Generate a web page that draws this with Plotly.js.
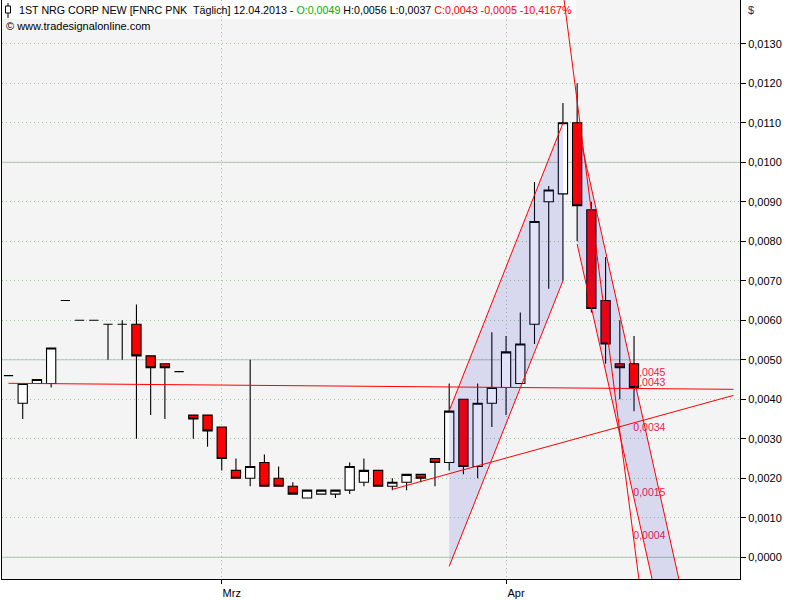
<!DOCTYPE html>
<html>
<head>
<meta charset="utf-8">
<script src="https://cdn.plot.ly/plotly-3.0.1.min.js"></script>
<style>
html,body{margin:0;padding:0;background:#ffffff;}
#chart{width:800px;height:600px;}
</style>
</head>
<body>
<div id="chart"></div>
<script>
// ---- trading days (daily bars) ----
const dates = [
  '2013-02-07','2013-02-08','2013-02-11','2013-02-12','2013-02-13','2013-02-14','2013-02-15',
  '2013-02-19','2013-02-20','2013-02-21','2013-02-22','2013-02-25','2013-02-26','2013-02-27','2013-02-28',
  '2013-03-01','2013-03-04','2013-03-05','2013-03-06','2013-03-07','2013-03-08',
  '2013-03-11','2013-03-12','2013-03-13','2013-03-14','2013-03-15',
  '2013-03-18','2013-03-19','2013-03-20','2013-03-21','2013-03-22',
  '2013-03-25','2013-03-26','2013-03-27','2013-03-28',
  '2013-04-01','2013-04-02','2013-04-03','2013-04-04','2013-04-05',
  '2013-04-08','2013-04-09','2013-04-10','2013-04-11','2013-04-12'
];
const openP  = [0.0046,0.0039,0.0044,0.0044,0.0065,0.0060,0.0060,0.0059,0.0059,0.0059,0.0051,0.0049,0.0047,0.0036,0.0036,
                0.0033,0.0022,0.0020,0.0024,0.0020,0.0018,0.0015,0.0016,0.0016,0.0017,0.0019,0.0022,0.0018,0.0019,0.0021,
                0.0025,0.0024,0.0040,0.0023,0.0039,0.0043,0.0044,0.0059,0.0090,0.0092,0.0110,0.0088,0.0065,0.0049,0.0049];
const highP  = [0.0046,0.0044,0.0045,0.0053,0.0065,0.0060,0.0060,0.0059,0.0060,0.0064,0.0051,0.0049,0.0047,0.0036,0.0036,
                0.0033,0.0025,0.0050,0.0026,0.0023,0.0019,0.0017,0.0017,0.0017,0.0024,0.0025,0.0022,0.0020,0.0021,0.0021,
                0.0025,0.0044,0.0040,0.0044,0.0057,0.0056,0.0062,0.0095,0.0094,0.0115,0.0120,0.0090,0.0076,0.0060,0.0056];
const lowP   = [0.0046,0.0035,0.0044,0.0043,0.0065,0.0060,0.0060,0.0050,0.0050,0.0030,0.0036,0.0035,0.0047,0.0030,0.0028,
                0.0022,0.0020,0.0018,0.0018,0.0018,0.0016,0.0015,0.0016,0.0015,0.0016,0.0018,0.0018,0.0017,0.0017,0.0019,
                0.0018,0.0022,0.0021,0.0020,0.0033,0.0036,0.0044,0.0054,0.0068,0.0070,0.0080,0.0062,0.0049,0.0040,0.0037];
const closeP = [0.0046,0.0044,0.0045,0.0053,0.0065,0.0060,0.0060,0.0059,0.0059,0.0051,0.0048,0.0048,0.0047,0.0035,0.0032,
                0.0025,0.0020,0.0023,0.0018,0.0018,0.0016,0.0017,0.0017,0.0017,0.0023,0.0022,0.0018,0.0019,0.0021,0.0020,
                0.0024,0.0037,0.0023,0.0039,0.0043,0.0052,0.0054,0.0085,0.0093,0.0110,0.0089,0.0063,0.0054,0.0048,0.0043];

// axis ticks
const tickDates  = ['2013-03-01','2013-04-01'];
const tickLabels = ['Mrz','Apr'];
const priceTicks = [0,0.001,0.002,0.003,0.004,0.005,0.006,0.007,0.008,0.009,0.010,0.011,0.012,0.013];

// drawing tools (bar index, price)
const hLineX   = [0, 51],  hLineY   = [0.004405, 0.004253];
const supportX = [27, 51], supportY = [0.00172, 0.00410];
const upChanX  = [31, 39], upChanHi = [0.00371, 0.01099], upChanLo = [-0.00023, 0.00700];
const dnChanX  = [40, 48], dnChanHi = [0.01096, -0.00191], dnChanLo = [0.00793, -0.00494];
const steepX   = [38, 46], steepY   = [0.01712, -0.00517];
// value labels shown at the last bar for each tool line
const levelValues = [0.0045, 0.0043, 0.0034, 0.0015, 0.0004];
const levelLines  = [[dnChanX, dnChanHi], [hLineX, hLineY], [supportX, supportY], [dnChanX, dnChanLo], [steepX, steepY]];
const levelAlign  = ['top right','top right','bottom right','top right','top right'];

// ---- build ----
const idx = dates.map((d, i) => i);
const lastBar = idx[idx.length - 1];
const fmt = v => v.toFixed(4).replace('.', ',');
const lineAt = (xs, ys, x) => ys[0] + (ys[1] - ys[0]) * (x - xs[0]) / (xs[1] - xs[0]);
const RED = '#ff0000';
const SHADE = 'rgba(30,30,200,0.13)';
const FONT = 'Liberation Sans, Arial, sans-serif';
const GRID = '#abc0ab';
const DOTS = '1px,3px';

const traces = [];
// level labels (drawn below the candles, on the main subplot)
traces.push({
  type: 'scatter', mode: 'text', xaxis: 'x', yaxis: 'y',
  x: levelValues.map(() => lastBar - 0.05),
  y: levelLines.map(l => lineAt(l[0], l[1], lastBar)),
  text: levelValues.map(fmt), textposition: levelAlign,
  textfont: {family: FONT, size: 10.5, color: '#f0204a'},
  cliponaxis: false, hoverinfo: 'skip'
});
// candles on overlay subplot
traces.push({
  type: 'candlestick', xaxis: 'x', yaxis: 'y2',
  x: idx, open: openP, high: highP, low: lowP, close: closeP,
  increasing: {fillcolor: '#ffffff', line: {color: '#000000', width: 1.1}},
  decreasing: {fillcolor: '#ff0000', line: {color: '#000000', width: 1.1}},
  whiskerwidth: 0, hoverinfo: 'skip'
});
// channel shading
function band(xs, hi, lo) {
  return {
    type: 'scatter', mode: 'lines', xaxis: 'x', yaxis: 'y2',
    x: xs.concat(xs.slice().reverse()),
    y: hi.concat(lo.slice().reverse()),
    fill: 'toself', fillcolor: SHADE, line: {width: 0}, hoverinfo: 'skip'
  };
}
traces.push(band(upChanX, upChanHi, upChanLo));
traces.push(band(dnChanX, dnChanHi, dnChanLo));
// red lines
function redLine(xs, ys) {
  return {type: 'scatter', mode: 'lines', xaxis: 'x', yaxis: 'y2', x: xs, y: ys,
          line: {color: RED, width: 1}, hoverinfo: 'skip'};
}
traces.push(redLine(hLineX, hLineY));
traces.push(redLine(supportX, supportY));
traces.push(redLine(upChanX, upChanHi));
traces.push(redLine(upChanX, upChanLo));
traces.push(redLine(dnChanX, dnChanHi));
traces.push(redLine(dnChanX, dnChanLo));
traces.push(redLine(steepX, steepY));

// plot area geometry helpers (paper coords)
const PL = 2, PW = 738, PH = 579;
const px = p => (p - PL) / PW;
const py = p => (PH - p) / PH;
const yRange = [-0.000549, 0.014109];

const shapes = [];
// header background
shapes.push({type: 'rect', xref: 'paper', yref: 'paper', x0: 0, x1: px(576), y0: py(19), y1: 1,
             fillcolor: '#ffffff', line: {width: 0}, layer: 'between'});
// solid grid every 0.005
for (let v = 0; v <= yRange[1]; v += 0.005) {
  shapes.push({type: 'line', xref: 'paper', yref: 'y', x0: 0, x1: 1, y0: v, y1: v,
               line: {color: '#b3c6b3', width: 1}, layer: 'between'});
}
// small candle icon in header
shapes.push({type: 'line', xref: 'paper', yref: 'paper', x0: px(8), x1: px(8), y0: py(18), y1: py(3),
             line: {color: '#000', width: 1}, layer: 'above'});
shapes.push({type: 'rect', xref: 'paper', yref: 'paper', x0: px(5.5), x1: px(10.5), y0: py(13), y1: py(6),
             fillcolor: '#ffffff', line: {color: '#000', width: 1}, layer: 'above'});

const header = '1ST NRG CORP NEW [FNRC PNK\u00a0 Täglich] 12.04.2013 - ' +
  '<span style="color:#00b000">O:0,0049</span> H:0,0056 L:0,0037 ' +
  '<span style="color:#ff0000">C:0,0043 -0,0005 -10,4167%</span>';

const layout = {
  width: 800, height: 600,
  margin: {l: 2, r: 60, t: 0, b: 21, pad: 0},
  paper_bgcolor: '#ffffff', plot_bgcolor: '#f4f4f4',
  separators: ',.',
  showlegend: false, hovermode: false,
  boxgap: 0.35, boxgroupgap: 0,
  font: {family: FONT, size: 11, color: '#000'},
  xaxis: {
    type: 'linear', range: [-0.457, 51.455],
    tickmode: 'array', tickvals: tickDates.map(d => dates.indexOf(d)), ticktext: tickLabels,
    ticks: 'outside', ticklen: 4, tickcolor: '#000', ticklabelshift: 10,
    showline: true, linecolor: '#000', linewidth: 1,
    showgrid: true, gridcolor: GRID, griddash: DOTS, gridwidth: 1,
    zeroline: false, rangeslider: {visible: false}, fixedrange: true,
    tickfont: {family: FONT, size: 11, color: '#000'}
  },
  yaxis: {
    range: yRange, side: 'right', tickmode: 'array', tickvals: priceTicks, tickformat: '.4f',
    ticks: 'outside', ticklen: 5, tickcolor: '#000',
    showline: true, mirror: true, linecolor: '#000', linewidth: 1,
    showgrid: true, gridcolor: GRID, griddash: DOTS, gridwidth: 1,
    zeroline: false, fixedrange: true,
    tickfont: {family: FONT, size: 11, color: '#000'}
  },
  yaxis2: {
    range: yRange, overlaying: 'y', side: 'right',
    showgrid: false, showticklabels: false, ticks: '', showline: false, zeroline: false, fixedrange: true
  },
  shapes: shapes,
  annotations: [
    {xref: 'paper', yref: 'paper', x: px(17), y: py(10), xanchor: 'left', yanchor: 'middle',
     text: header, showarrow: false, font: {family: FONT, size: 10.7, color: '#000'}},
    {xref: 'paper', yref: 'paper', x: px(4), y: py(26), xanchor: 'left', yanchor: 'middle',
     text: '© www.tradesignalonline.com', showarrow: false, font: {family: FONT, size: 11, color: '#000'}},
    {xref: 'paper', yref: 'paper', x: px(746), y: py(10), xanchor: 'left', yanchor: 'middle',
     text: '$', showarrow: false, font: {family: FONT, size: 11, color: '#1c2c5c'}}
  ]
};

Plotly.newPlot('chart', traces, layout, {staticPlot: true, displayModeBar: false});
</script>
</body>
</html>
